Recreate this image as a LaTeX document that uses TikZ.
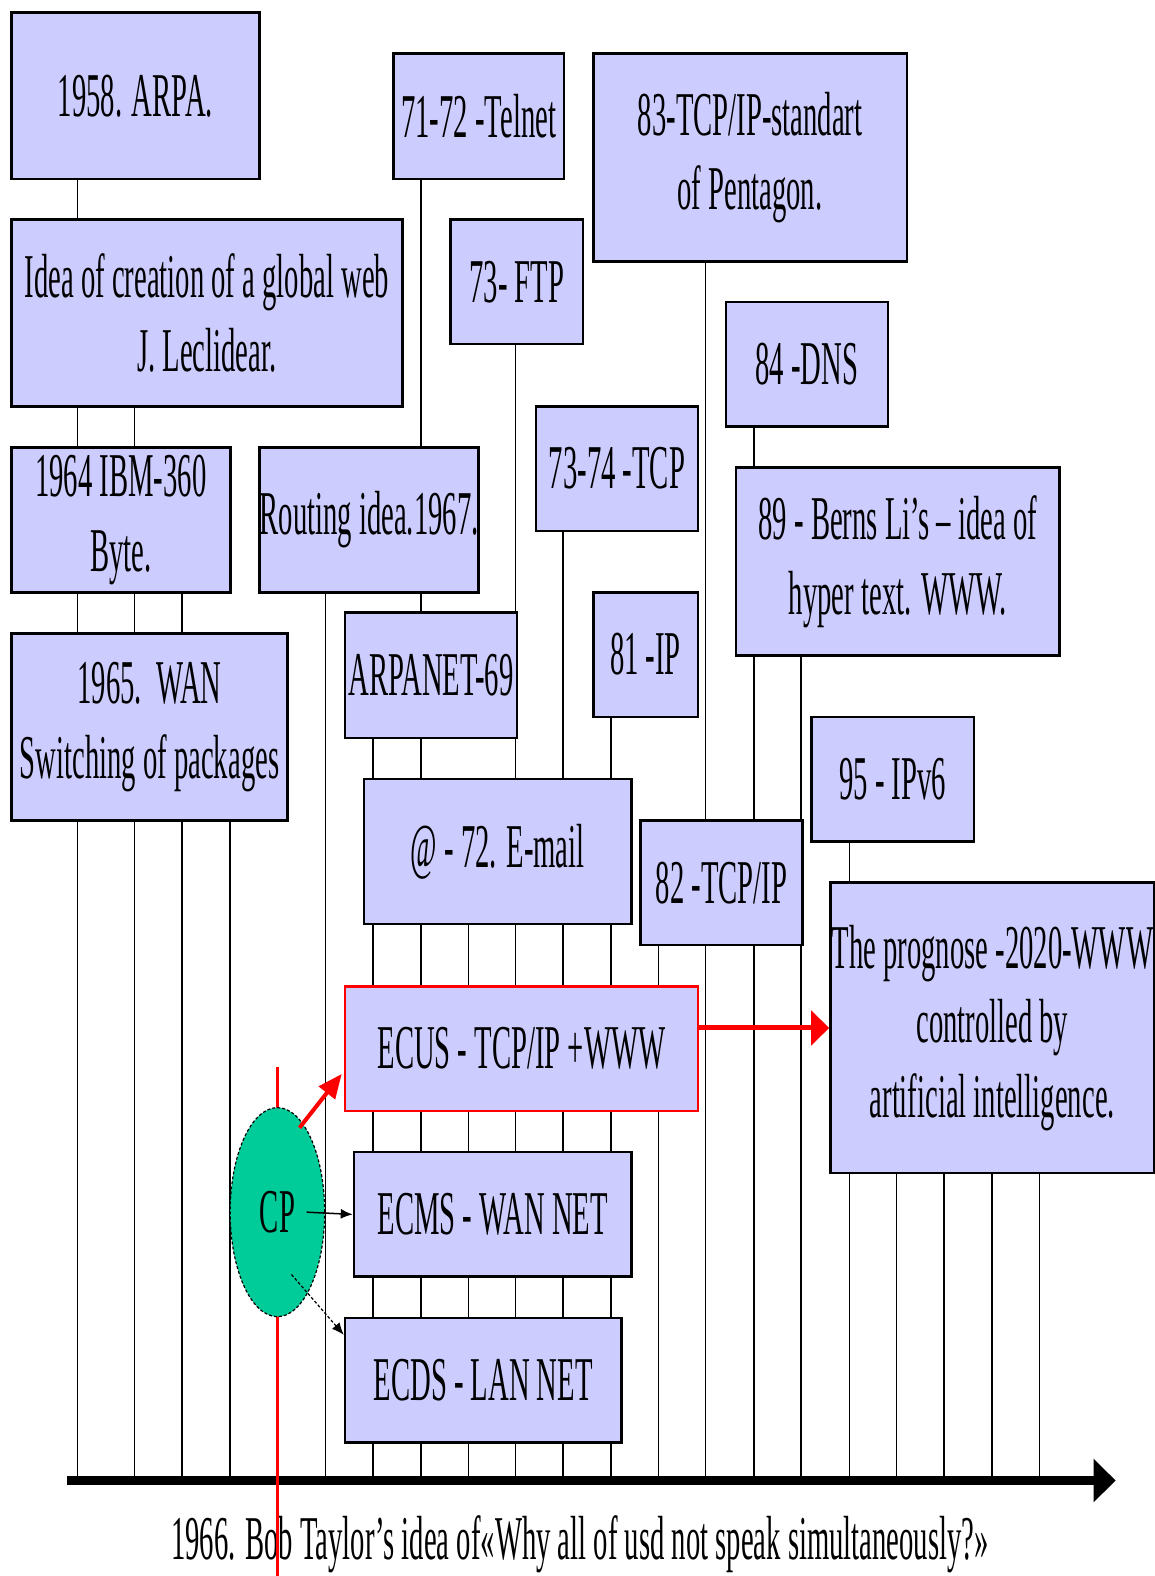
\documentclass[tikz,border=0pt]{standalone}
\usepackage{fontspec}
\setmainfont{Liberation Serif}[FakeStretch=0.46]
\usetikzlibrary{positioning, arrows.meta, backgrounds, shapes.geometric}
\definecolor{boxblue}{RGB}{204,204,255}
\definecolor{cpgreen}{RGB}{0,204,153}
\tikzset{>={Latex[width=10pt,length=12pt]}}

\begin{document}
\begin{tikzpicture}[x=1pt, y=-1pt, box/.style={draw=black, fill=boxblue, line width=2.5pt, inner sep=0pt, align=center, anchor=north west, font=\fontsize{62}{74}\selectfont}, redbox/.style={box, draw=red}, tick/.style={line width=1.4pt}, axis/.style={line width=9pt, -{Triangle[length=22pt,width=42pt]}}, cpnode/.style={ellipse, draw=black, densely dashed, line width=1.2pt, fill=cpgreen, minimum width=94, minimum height=208, inner sep=0pt, font=\fontsize{62}{74}\selectfont}, redline/.style={draw=red, line width=3.5pt}, redarrow/.style={red, line width=4pt, -{Triangle[length=24pt,width=20pt]}}, bigred/.style={red, line width=5pt, -{Triangle[length=18pt,width=34pt]}}]
    \useasboundingbox (0,0) rectangle (1149,1568);

    %Nodes
    \node[box, minimum width=247, minimum height=166] (arpa) at (10,11) {1958. ARPA.};
    \node[box, minimum width=389, minimum height=186] (idea) at (10,217) {Idea of creation of a global web\\J. Leclidear.};
    \node[box, minimum width=170, minimum height=125] (telnet) at (390,52) {71-72 -Telnet};
    \node[box, minimum width=132, minimum height=124] (ftp) at (447,217) {73- FTP};
    \node[box, minimum width=312, minimum height=207] (pentagon) at (589,52) {83-TCP/IP-standart\\of Pentagon.};
    \node[box, minimum width=161, minimum height=124] (dns) at (721,299) {84 -DNS};
    \node[box, minimum width=218, minimum height=144] (ibm) at (10,444) {1964 IBM-360\\Byte.};
    \node[box, minimum width=218, minimum height=144] (routing) at (257,444) {Routing idea.1967.};
    \node[box, minimum width=161, minimum height=124] (tcp) at (532,403) {73-74 -TCP};
    \node[box, minimum width=322, minimum height=187] (www) at (731,464) {89 - Berns Li’s – idea of\\hyper text. WWW.};
    \node[box, minimum width=275, minimum height=186] (wan) at (10,629) {1965.~~WAN\\Switching of packages};
    \node[box, minimum width=171, minimum height=125] (arpanet) at (342,608) {ARPANET-69};
    \node[box, minimum width=104, minimum height=124] (ip) at (589,588) {81 -IP};
    \node[box, minimum width=162, minimum height=124] (ipv) at (806,712) {95 - IPv6};
    \node[box, minimum width=266, minimum height=144] (mail) at (361,774) {@ - 72. E-mail};
    \node[box, minimum width=161, minimum height=124] (tcpip) at (636,815) {82 -TCP/IP};
    \node[box, minimum width=322, minimum height=289] (prognose) at (825,877) {The prognose -2020-WWW\\controlled by\\artificial intelligence.};
    \node[redbox, minimum width=351, minimum height=124] (ecus) at (342,980) {ECUS - TCP/IP +WWW};
    \node[box, minimum width=276, minimum height=124] (ecms) at (351,1145) {ECMS - WAN NET};
    \node[box, minimum width=275, minimum height=124] (ecds) at (342,1310) {ECDS - LAN NET};
    \node[font=\fontsize{62}{74}\selectfont] (bob) at (577,1536) {1966. Bob Taylor’s idea of«Why all of usd not speak simultaneously?»};

    \coordinate (axisl) at (67,1473);
    \coordinate (axisr) at (1110,1473);
    \coordinate (redtop) at (276,1062);
    \coordinate (redbot) at (276,1568);

    %Lines
    \begin{scope}[on background layer]
    \foreach \x/\b in {77/arpa, 134/idea, 181/ibm, 229/wan, 324/routing, 371/arpanet, 419/telnet, 466/mail, 513/ftp, 560/tcp, 608/ip, 655/tcpip, 702/pentagon, 750/dns, 797/www, 845/ipv, 892/prognose, 939/prognose, 987/prognose, 1034/prognose}
        \draw[tick] (\x,0 |- \b.south) -- (\x,0 |- axisl);
    \end{scope}
    \draw[axis] (axisl) -- (axisr);
    \draw[redline] (redtop) -- (redbot);
    \node[cpnode] (cp) at (276,1206) {CP};
    \draw[redarrow] ([xshift=22pt,yshift=84pt]cp.center) -- ([xshift=-2pt,yshift=38pt]ecus.south west);
    \draw[->, line width=1.5pt] ([xshift=29pt]cp.center) -- (ecms.west);
    \draw[->, densely dashed, line width=1.2pt] ([xshift=14pt,yshift=-62pt]cp.center) -- ([yshift=-18pt]ecds.north west);
    \draw[bigred] (ecus.east |- prognose.west) -- (prognose.west);

\end{tikzpicture}
\end{document}
